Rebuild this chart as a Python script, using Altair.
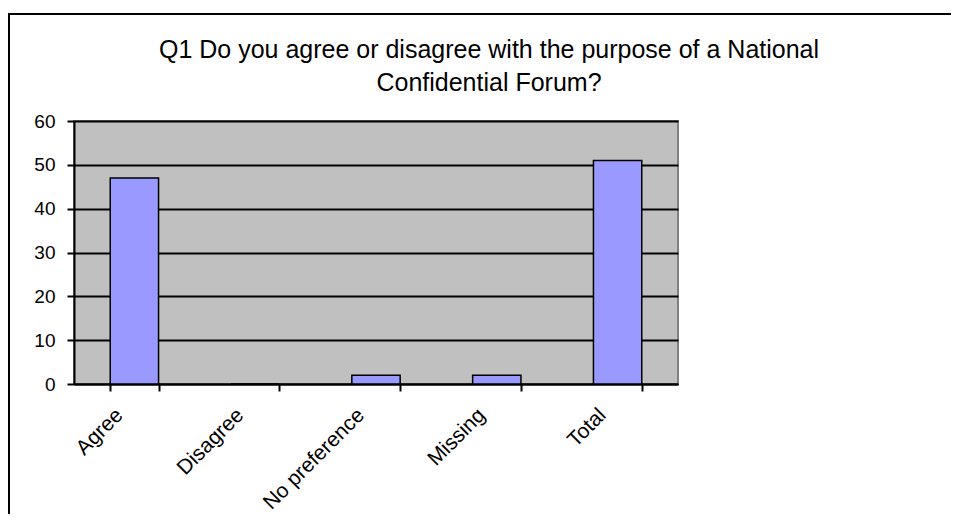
import altair as alt
import pandas as pd

categories = ["Agree", "Disagree", "No preference", "Missing", "Total"]
counts = [47, 0, 2, 2, 51]
y_ticks = [0, 10, 20, 30, 40, 50, 60]
title_lines = ["Q1 Do you agree or disagree with the purpose of a National", "Confidential Forum?"]

df = pd.DataFrame({"category": categories, "count": counts})

FONT = "Liberation Sans"

frame = alt.Chart(df).mark_rect(
    fill=None, stroke="black", strokeWidth=2, clip=False
).encode(
    x=alt.value(-65), x2=alt.value(1000),
    y=alt.value(-107), y2=alt.value(600),
)

bars = alt.Chart(df).mark_bar(
    color="#9999FF", stroke="black", strokeWidth=1.5
).encode(
    x=alt.X(
        "category:N", sort=categories, title=None,
        scale=alt.Scale(paddingInner=0.6, paddingOuter=0.3),
        axis=alt.Axis(
            labelAngle=-45, labelFont=FONT, labelFontSize=21, labelColor="black",
            domainColor="black", domainWidth=2, tickColor="black", tickWidth=2,
            tickSize=7, tickBand="extent", labelPadding=13, labelOffset=-23,
            grid=False,
        ),
    ),
    y=alt.Y(
        "count:Q", title=None,
        scale=alt.Scale(domain=[0, 60], nice=False),
        axis=alt.Axis(
            values=y_ticks, labelFont=FONT, labelFontSize=19, labelColor="black",
            domainColor="black", domainWidth=2, tickColor="black", tickWidth=2,
            tickSize=7, labelPadding=12, grid=True, gridColor="black", gridWidth=2,
        ),
    ),
)

chart = alt.layer(frame, bars).properties(
    width=604,
    height=263,
    title=alt.TitleParams(
        text=title_lines, font=FONT, fontSize=25, fontWeight="normal",
        color="black", anchor="middle", lineHeight=33, dx=113, dy=103, offset=20,
    ),
    autosize=alt.AutoSizeParams(type="none"),
    padding={"left": 66, "top": 113, "right": 273, "bottom": 130},
).configure_view(
    fill="#C0C0C0", stroke="#808080", strokeWidth=2
)

chart.save("out.html", embed_options={"renderer": "svg", "actions": False})
